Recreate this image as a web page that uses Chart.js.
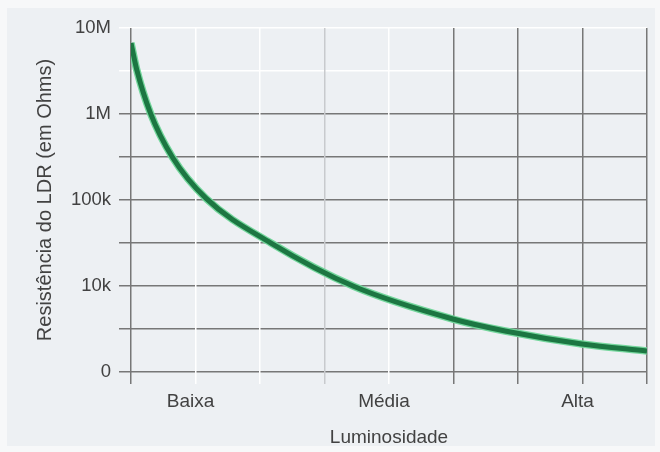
<!DOCTYPE html>
<html>
<head>
<meta charset="utf-8">
<script src="https://cdn.jsdelivr.net/npm/chart.js@4/dist/chart.umd.min.js"></script>
<style>
  html, body { margin: 0; padding: 0; background: #f7f8f9; }
  #wrap { width: 660px; height: 452px; }
</style>
</head>
<body>
<div id="wrap"><canvas id="ldr" width="660" height="452"></canvas></div>
<script>
// LDR response: resistance falls as luminosity rises
const luminosity = [0, 0.09, 0.3, 0.64, 1.16, 2.17, 3.46, 4.99, 5.8, 6.99, 8.0];
const resistance = [6700000, 3250000, 1030000, 316000, 105000, 31600, 9860, 4130, 3000, 2120, 1750];

// Horizontal axis: grid divisions and the luminosity bands
const xTickValues = [0, 1, 2, 3, 4, 5, 6, 7, 8];
const xTickLabels = ['', 'Baixa', '', '', 'Média', '', '', 'Alta', ''];

// Vertical axis: decades plus half-decade grid lines (ohms)
const yTickValues = [1000, 3162.3, 10000, 31623, 100000, 316228, 1000000, 3162278, 10000000];
const yTickLabels = ['0', '', '10k', '', '100k', '', '1M', '', '10M'];

const GRAY = '#777777';
const WHITE = '#ffffff';
const LIGHT = '#c8cacd';
const xGridColors = [GRAY, WHITE, WHITE, LIGHT, WHITE, GRAY, GRAY, GRAY, GRAY];
const yGridColors = [GRAY, GRAY, GRAY, GRAY, GRAY, GRAY, GRAY, WHITE, WHITE];

const FONT = "'Liberation Sans', Arial, sans-serif";
const TEXT = '#424242';

const backdrop = {
  id: 'backdrop',
  beforeDraw(chart) {
    const ctx = chart.ctx;
    ctx.save();
    ctx.fillStyle = '#f7f8f9';
    ctx.fillRect(0, 0, chart.width, chart.height);
    ctx.fillStyle = '#edf0f3';
    ctx.fillRect(7, 8, 648, 438);
    ctx.restore();
  }
};

const points = luminosity.map((x, i) => ({ x, y: resistance[i] }));

new Chart(document.getElementById('ldr'), {
  type: 'line',
  data: {
    datasets: [
      {
        data: points,
        borderColor: '#1c7642',
        borderWidth: 5,
        pointRadius: 0,
        cubicInterpolationMode: 'monotone',
        order: 0
      },
      {
        data: points,
        borderColor: '#74d69c',
        borderWidth: 7.5,
        pointRadius: 0,
        cubicInterpolationMode: 'monotone',
        order: 1
      }
    ]
  },
  options: {
    responsive: false,
    animation: false,
    layout: { padding: { top: 28, right: 13, bottom: 0, left: 0 } },
    plugins: { legend: { display: false }, tooltip: { enabled: false } },
    scales: {
      x: {
        type: 'linear',
        min: 0,
        max: 8,
        afterBuildTicks: s => { s.ticks = xTickValues.map(v => ({ value: v })); },
        afterFit: s => { s.height = 80; },
        ticks: {
          autoSkip: false,
          maxRotation: 0,
          labelOffset: -5,
          padding: 6,
          color: TEXT,
          font: { family: FONT, size: 19 },
          callback: (v, i) => xTickLabels[i]
        },
        grid: {
          color: c => xGridColors[c.index],
          lineWidth: 1.5,
          tickLength: 12,
          z: -1
        },
        border: { display: false },
        title: {
          display: true,
          text: 'Luminosidade',
          color: TEXT,
          font: { family: FONT, size: 19 },
          padding: { top: 0, bottom: 3 }
        }
      },
      y: {
        type: 'logarithmic',
        min: 1000,
        max: 10000000,
        afterBuildTicks: s => { s.ticks = yTickValues.map(v => ({ value: v })); },
        afterFit: s => { s.width = 131; },
        ticks: {
          autoSkip: false,
          padding: 8,
          color: TEXT,
          font: { family: FONT, size: 18.5 },
          callback: (v, i) => yTickLabels[i]
        },
        grid: {
          color: c => yGridColors[c.index],
          lineWidth: 1.5,
          tickLength: 12,
          z: -2
        },
        border: { display: false },
        title: {
          display: true,
          text: 'Resistência do LDR (em Ohms)',
          color: TEXT,
          font: { family: FONT, size: 20 },
          padding: { top: 33, bottom: 0 }
        }
      }
    }
  },
  plugins: [backdrop]
});
</script>
</body>
</html>
